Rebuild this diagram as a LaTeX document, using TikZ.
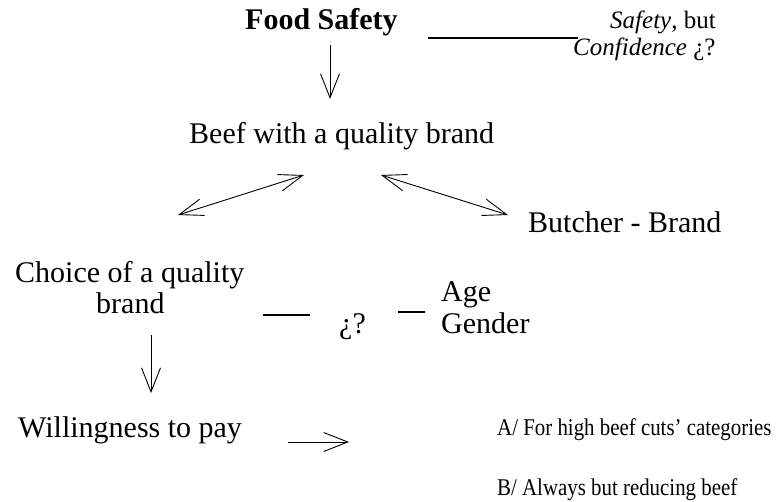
\documentclass[tikz,border=0pt]{standalone}
\usepackage{fontspec}
\setmainfont{Liberation Serif}
\usetikzlibrary{arrows.meta}
\newcommand{\narrowtext}[1]{\scalebox{0.87}[1]{#1}}
\begin{document}
\begin{tikzpicture}[x=1pt,y=-1pt,
  txt/.style={inner sep=0pt,anchor=base west,font=\fontsize{30}{34}\selectfont},
  smalltxt/.style={inner sep=0pt,anchor=base west,font=\fontsize{24}{28}\selectfont},
  itxt/.style={inner sep=0pt,anchor=base west,font=\fontsize{25}{28}\selectfont},
  arr/.style={line width=0.9pt,-{Straight Barb[length=24pt,width=19pt,line width=0.9pt]}},
  darr/.style={line width=0.9pt,{Straight Barb[length=24pt,width=17pt,line width=0.9pt]}-{Straight Barb[length=24pt,width=17pt,line width=0.9pt]}},
  rule/.style={line width=1.8pt}]
\useasboundingbox (0,0) rectangle (781,501);
\node[txt,font=\fontsize{30}{34}\selectfont\bfseries] (food) at (245,29) {Food Safety};
\node[itxt] (saf) at (610,28) {\textit{Safety}, but};
\node[itxt] (conf) at (573,55) {\textit{Confidence} ¿?};
\coordinate (l1a) at (428,38);
\coordinate (l1b) at (578,38);
\draw[rule] (l1a) -- (l1b);
\coordinate (a1s) at (330,45);
\coordinate (a1e) at (330,99);
\draw[arr] (a1s) -- (a1e);
\node[txt] (beef) at (189,143) {Beef with a quality brand};
\coordinate (d1a) at (178,215);
\coordinate (d1b) at (304,175);
\draw[darr] (d1a) -- (d1b);
\coordinate (d2a) at (381,175);
\coordinate (d2b) at (508,215);
\draw[darr] (d2a) -- (d2b);
\node[txt] (butcher) at (528,232) {Butcher - Brand};
\node[txt] (choice1) at (15,282) {Choice of a quality};
\node[txt] (choice2) at (96,313) {brand};
\coordinate (m1a) at (263,315);
\coordinate (m1b) at (310,315);
\draw[rule] (m1a) -- (m1b);
\node[txt] (q) at (339,333) {¿?};
\coordinate (m2a) at (398,312);
\coordinate (m2b) at (425,312);
\draw[rule] (m2a) -- (m2b);
\node[txt] (age) at (441,301) {Age};
\node[txt] (gender) at (441,333) {Gender};
\coordinate (a2s) at (151,335);
\coordinate (a2e) at (151,393);
\draw[arr] (a2s) -- (a2e);
\node[txt] (will) at (18,437) {Willingness to pay};
\coordinate (a3s) at (288,442);
\coordinate (a3e) at (349,442);
\draw[arr] (a3s) -- (a3e);
\node[smalltxt] (A) at (497,435) {\narrowtext{A/ For high beef cuts’ categories}};
\node[smalltxt] (B) at (497,495) {\narrowtext{B/ Always but reducing beef}};
\end{tikzpicture}
\end{document}
